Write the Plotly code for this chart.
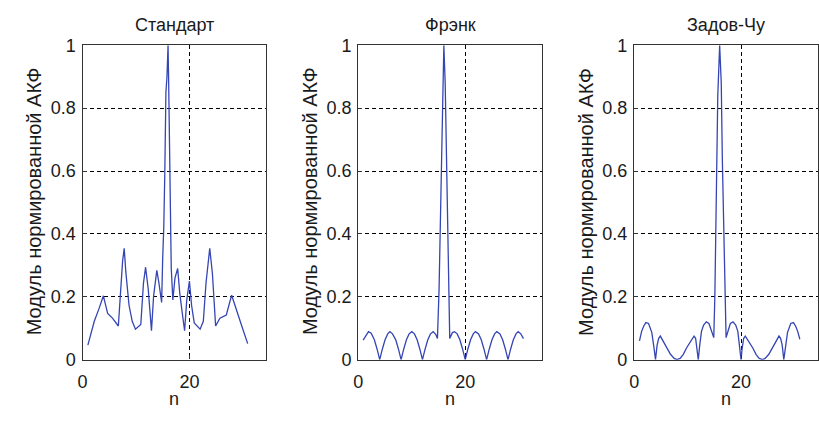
import plotly.graph_objects as go

# ---------------- data ----------------
titles = ["Стандарт", "Фрэнк", "Задов-Чу"]
ylabel = "Модуль нормированной АКФ"
xlabel = "n"

x_ticks = [0, 20]
x_tick_text = ["0", "20"]
y_ticks = [0, 0.2, 0.4, 0.6, 0.8, 1.0]
y_tick_text = ["0", "0.2", "0.4", "0.6", "0.8", "1"]

std_n = [1.0, 2.2, 3.1, 3.9, 4.7, 5.6, 6.7, 7.2, 7.5, 7.8, 8.1, 8.7, 9.3, 9.9,
         10.9, 11.4, 11.8, 12.3, 12.9, 13.3, 13.9, 14.3, 14.8, 15.0, 15.2, 15.4,
         15.6, 15.8, 16.0, 16.1, 16.3, 16.5, 16.6, 16.9, 17.3, 17.8, 18.2, 18.8,
         19.1, 19.5, 20.0, 20.4, 20.9, 22.0, 22.6, 23.1, 23.5, 23.8, 24.3, 24.9,
         25.7, 26.9, 27.9, 28.8, 29.7, 30.9]
std_v = [0.046, 0.122, 0.163, 0.203, 0.147, 0.132, 0.107, 0.233, 0.314, 0.354,
         0.279, 0.173, 0.122, 0.097, 0.112, 0.243, 0.294, 0.223, 0.092, 0.203,
         0.284, 0.243, 0.182, 0.324, 0.42, 0.60, 0.85, 0.90, 1.0, 0.90, 0.69,
         0.50, 0.29, 0.19, 0.26, 0.29, 0.21, 0.13, 0.092, 0.19, 0.25, 0.173,
         0.117, 0.097, 0.122, 0.243, 0.314, 0.354, 0.274, 0.107, 0.132, 0.142,
         0.205, 0.162, 0.112, 0.051]

frank_n = [0.9, 1.4, 1.9, 2.4, 3.0, 3.5, 4.0, 4.5, 5.0, 5.5, 5.9, 6.4, 7.0, 7.5,
           8.0, 8.5, 9.0, 9.5, 10.0, 10.5, 11.0, 11.5, 12.0, 12.5, 13.0, 13.5,
           14.0, 14.5, 14.8, 15.1, 15.4, 15.7, 16.0, 16.25, 16.5, 16.75, 16.95,
           17.1, 17.6, 18.0, 18.5, 19.0, 19.5, 20.0, 20.5, 21.0, 21.5, 21.9,
           22.5, 23.0, 23.5, 24.0, 24.5, 25.0, 25.5, 25.9, 26.5, 27.0, 27.5,
           28.0, 28.5, 29.0, 29.5, 29.9, 30.4, 30.9]
frank_v = [0.062, 0.078, 0.089, 0.084, 0.063, 0.034, 0.0, 0.034, 0.063, 0.082,
           0.089, 0.082, 0.063, 0.034, 0.0, 0.034, 0.063, 0.082, 0.089, 0.082,
           0.063, 0.034, 0.0, 0.034, 0.063, 0.082, 0.089, 0.080, 0.067, 0.22,
           0.52, 0.84, 1.0, 0.88, 0.64, 0.41, 0.18, 0.067, 0.086, 0.089, 0.082,
           0.063, 0.034, 0.0, 0.034, 0.063, 0.082, 0.089, 0.082, 0.063, 0.034,
           0.0, 0.034, 0.063, 0.082, 0.089, 0.082, 0.063, 0.034, 0.0, 0.034,
           0.063, 0.082, 0.089, 0.082, 0.067]

zc_n = [1.0, 1.4, 1.8, 2.2, 2.7, 3.3, 3.7, 4.0, 4.3, 4.6, 4.9, 5.5, 6.1, 6.8,
        7.5, 8.0, 8.6, 9.2, 9.8, 10.5, 11.2, 11.5, 11.8, 12.0, 12.3, 12.6,
        13.0, 13.5, 14.0, 14.5, 14.9, 15.1, 15.4, 15.65, 16.0, 16.3, 16.5,
        16.8, 17.0, 17.2, 17.5, 18.0, 18.5, 19.0, 19.4, 19.7, 20.0, 20.2, 20.5,
        20.8, 21.5, 22.2, 22.8, 23.4, 24.0, 24.5, 25.2, 25.9, 26.5, 27.1, 27.4,
        27.7, 28.0, 28.3, 28.7, 29.3, 29.8, 30.2, 30.6, 31.0]
zc_v = [0.06, 0.09, 0.107, 0.118, 0.115, 0.087, 0.04, 0.0, 0.046, 0.068, 0.075,
        0.058, 0.037, 0.017, 0.004, 0.0, 0.004, 0.017, 0.037, 0.058, 0.075,
        0.068, 0.035, 0.0, 0.05, 0.09, 0.11, 0.12, 0.115, 0.087, 0.07, 0.2,
        0.52, 0.84, 1.0, 0.88, 0.64, 0.41, 0.2, 0.07, 0.087, 0.115, 0.12, 0.11,
        0.09, 0.05, 0.0, 0.035, 0.068, 0.075, 0.058, 0.037, 0.017, 0.004, 0.0,
        0.004, 0.017, 0.037, 0.058, 0.075, 0.068, 0.046, 0.0, 0.04, 0.087,
        0.115, 0.118, 0.107, 0.09, 0.065]

series = [(std_n, std_v), (frank_n, frank_v), (zc_n, zc_v)]

# ---------------- layout helpers ----------------
W, H = 819, 423
boxes = [(78, 263), (355.5, 540.5), (633, 818)]
box_top, box_bot = 37, 367
ylab_x = [30, 307.5, 585]

FONT_H = "Liberation Sans, Arial, sans-serif"
FONT_V = "Liberation Sans, Arial, sans-serif"
TXT = "#1a1a1a"
LINE = "#3545b4"

fig = go.Figure()
annotations = []
for i, ((x0, x1), (n, v)) in enumerate(zip(boxes, series)):
    k = "" if i == 0 else str(i + 1)
    fig.add_trace(go.Scatter(x=n, y=v, mode="lines",
                             line=dict(color=LINE, width=1.3),
                             xaxis="x" + k, yaxis="y" + k, showlegend=False,
                             hoverinfo="skip"))
    common = dict(showline=True, mirror=True, linecolor="#333333", linewidth=1.3,
                  ticks="inside", ticklen=4, tickcolor="#333333",
                  showgrid=True, gridcolor="#000000", gridwidth=1.2,
                  griddash="4px,3px", zeroline=False,
                  tickfont=dict(family=FONT_H, size=18, color=TXT))
    fig.update_layout(**{
        "xaxis" + k: dict(domain=[x0 / W, x1 / W], range=[0, 34.4],
                          tickvals=x_ticks, ticktext=x_tick_text,
                          ticklabelstandoff=6,
                          anchor="y" + k, **common),
        "yaxis" + k: dict(domain=[1 - box_bot / H, 1 - box_top / H], range=[0, 1],
                          tickvals=y_ticks, ticktext=y_tick_text,
                          ticklabelstandoff=2,
                          anchor="x" + k, **common),
    })
    cx = (x0 + x1) / 2 / W
    annotations.append(dict(text=titles[i], x=cx, y=1 - 16 / H, xref="paper",
                            yref="paper", showarrow=False, xanchor="center",
                            yanchor="middle",
                            font=dict(family=FONT_H, size=18, color=TXT)))
    annotations.append(dict(text=xlabel, x=cx, y=0.0, xref="paper",
                            yref="paper", showarrow=False, xanchor="center",
                            yanchor="bottom", yshift=2,
                            font=dict(family=FONT_H, size=18, color=TXT)))
    annotations.append(dict(text=ylabel, x=ylab_x[i] / W, y=1 - 201 / H,
                            xref="paper", yref="paper", showarrow=False,
                            textangle=-90, xanchor="center", yanchor="middle",
                            font=dict(family=FONT_V, size=20, color=TXT)))

fig.update_layout(width=W, height=H, margin=dict(l=0, r=0, t=0, b=0),
                  paper_bgcolor="white", plot_bgcolor="white",
                  annotations=annotations)

fig.write_html("out.html")
